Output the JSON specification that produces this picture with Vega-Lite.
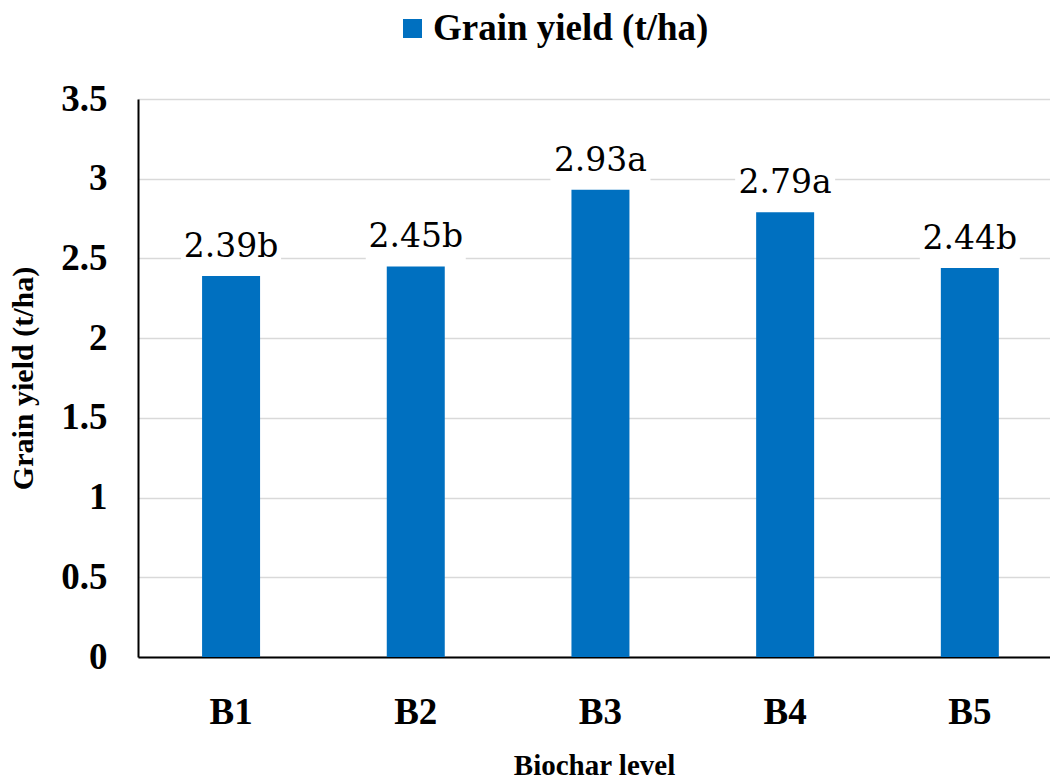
{
  "$schema": "https://vega.github.io/schema/vega-lite/v6.json",
  "width": 912,
  "height": 558,
  "autosize": {"type": "none"},
  "padding": {"left": 138, "top": 99, "right": 0, "bottom": 123},
  "background": "white",
  "data": {
    "values": [
      {"level": "B1", "yield": 2.39, "label": "2.39b"},
      {"level": "B2", "yield": 2.45, "label": "2.45b"},
      {"level": "B3", "yield": 2.93, "label": "2.93a"},
      {"level": "B4", "yield": 2.79, "label": "2.79a"},
      {"level": "B5", "yield": 2.44, "label": "2.44b"}
    ]
  },
  "encoding": {
    "x": {
      "field": "level",
      "type": "nominal",
      "scale": {"paddingInner": 0.686, "paddingOuter": 0.312, "align": 0.556},
      "axis": {
        "title": "Biochar level",
        "labelAngle": 0,
        "labelFont": "Liberation Serif",
        "labelFontWeight": "bold",
        "labelFontSize": 37,
        "labelColor": "black",
        "labelPadding": 37,
        "ticks": false,
        "tickSize": 0,
        "domainColor": "black",
        "domainWidth": 2,
        "titleFont": "Liberation Serif",
        "titleFontWeight": "bold",
        "titleFontSize": 29,
        "titleColor": "black",
        "titlePadding": 21
      }
    },
    "y": {
      "field": "yield",
      "type": "quantitative",
      "scale": {"domain": [0, 3.5], "nice": false},
      "axis": {
        "title": "Grain yield (t/ha)",
        "values": [0, 0.5, 1, 1.5, 2, 2.5, 3, 3.5],
        "format": "~g",
        "labelFont": "Liberation Serif",
        "labelFontWeight": "bold",
        "labelFontSize": 37,
        "labelColor": "black",
        "labelPadding": 31,
        "ticks": false,
        "tickSize": 0,
        "domainColor": "black",
        "domainWidth": 2,
        "grid": true,
        "gridColor": "#d9d9d9",
        "gridWidth": 1.5,
        "titleFont": "Liberation Serif",
        "titleFontWeight": "bold",
        "titleFontSize": 30,
        "titleColor": "black",
        "titlePadding": 22
      }
    }
  },
  "layer": [
    {
      "mark": {"type": "bar", "color": "#0070C0"},
      "encoding": {
        "color": {
          "datum": "Grain yield (t/ha)",
          "type": "nominal",
          "scale": {"range": ["#0070C0"]},
          "legend": {
            "title": null,
            "orient": "none",
            "legendX": 256,
            "legendY": -89,
            "symbolType": "square",
            "symbolSize": 360,
            "symbolStrokeWidth": 0,
            "labelFont": "Liberation Serif",
            "labelFontWeight": "bold",
            "labelFontSize": 37,
            "labelColor": "black",
            "labelOffset": 2,
            "labelLimit": 0,
            "padding": 0
          }
        }
      }
    },
    {
      "mark": {
        "type": "point",
        "shape": "M-1,-0.44H1V0.44H-1Z",
        "size": 10000,
        "filled": true,
        "color": "white",
        "opacity": 1,
        "strokeWidth": 0,
        "yOffset": -28
      }
    },
    {
      "mark": {
        "type": "text",
        "font": "DejaVu Serif",
        "fontSize": 33,
        "color": "black",
        "baseline": "alphabetic",
        "dy": -19
      },
      "encoding": {"text": {"field": "label"}}
    }
  ],
  "config": {"view": {"stroke": null}}
}
